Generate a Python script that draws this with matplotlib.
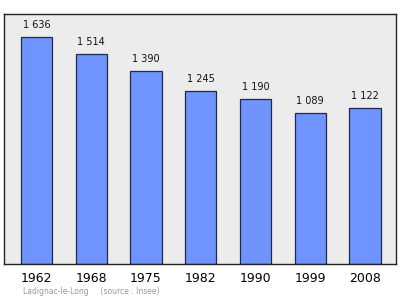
import matplotlib
matplotlib.use("Agg")
import matplotlib.pyplot as plt

years = ["1962", "1968", "1975", "1982", "1990", "1999", "2008"]
population = [1636, 1514, 1390, 1245, 1190, 1089, 1122]
value_labels = ["1 636", "1 514", "1 390", "1 245", "1 190", "1 089", "1 122"]

fig = plt.figure(figsize=(4.0, 2.99), dpi=100)
W, H = 400, 299
ax = fig.add_axes([4.3 / W, 1 - 263.5 / H, (395.6 - 4.3) / W, (263.5 - 14) / H])
ax.set_facecolor("#ececec")
x = list(range(len(years)))
ax.bar(x, population, width=0.57, color="#6f94ff", edgecolor="#1f2a4a", linewidth=0.9, zorder=2)
for xi, v, lab in zip(x, population, value_labels):
    ax.annotate(lab, (xi, v), xytext=(0, 5), textcoords="offset points",
                ha="center", va="bottom", fontsize=7, color="#111111")
ax.set_xlim(-0.59, 6.56)
ax.set_ylim(0, 1800)
ax.set_yticks([])
ax.set_xticks(x)
ax.set_xticklabels(years, fontsize=9)
ax.tick_params(axis="x", length=0, pad=6)
for s in ax.spines.values():
    s.set_color("#222222")
    s.set_linewidth(1.0)
fig.text(23 / W, 1 - 292 / H, "Ladignac-le-Long     (source : Insee)", fontsize=5.5,
         color="#999999", va="center", ha="left")
fig.savefig("out.png", dpi=100, facecolor="white")
